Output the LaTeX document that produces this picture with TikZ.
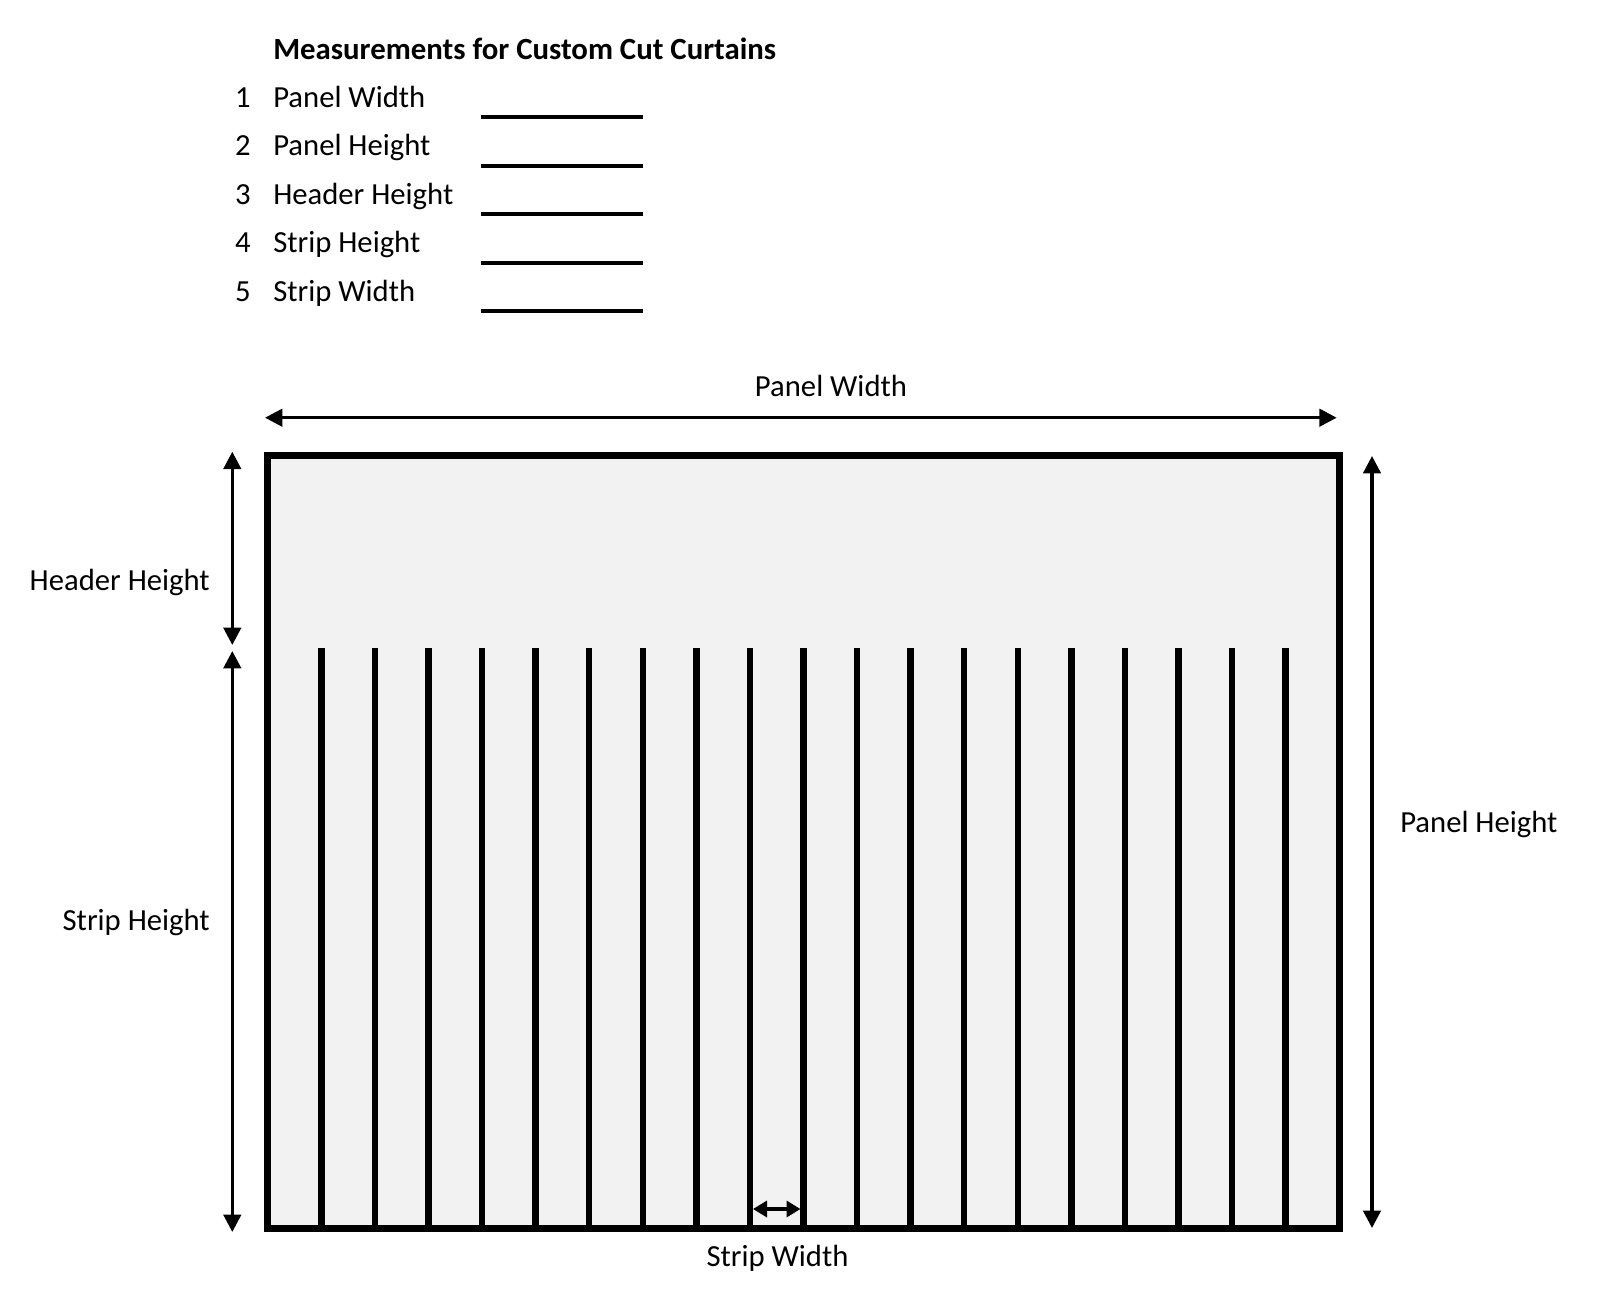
\documentclass[tikz,border=0pt]{standalone}
\usepackage{fontspec}
\setmainfont{Carlito}
\usetikzlibrary{arrows.meta}
\definecolor{panelgray}{HTML}{F2F2F2}
\begin{document}
\begin{tikzpicture}[x=0.75pt,y=-0.75pt,
  lbl/.style={inner sep=0pt, font=\fontsize{23}{27}\selectfont},
  ttl/.style={inner sep=0pt, font=\fontsize{23.1}{27}\selectfont\bfseries},
  dimline/.style={line width=2.5pt, {Triangle[length=13pt,width=13pt]}-{Triangle[length=13pt,width=13pt]}},
  smalldim/.style={line width=2.5pt, {Triangle[length=10.5pt,width=12pt]}-{Triangle[length=10.5pt,width=12pt]}},
  blankline/.style={line width=3pt},
  panelframe/.style={line width=5.25pt, fill=panelgray},
  stripline/.style={line width=4.9pt}]
\useasboundingbox (0,0) rectangle (1600,1300);

% list
\node[ttl, anchor=base west] (title) at (273,59) {Measurements for Custom Cut Curtains};
\foreach \n/\t/\yy in {1/Panel Width/107, 2/Panel Height/155.5, 3/Header Height/204, 4/Strip Height/252.5, 5/Strip Width/301}{
  \node[lbl, anchor=base] (num\n) at (243,\yy) {\n};
  \node[lbl, anchor=base west] (item\n) at (273,\yy) {\t};
  \coordinate (bl\n) at (481,\yy+10);
  \coordinate (br\n) at (643,\yy+10);
  \draw[blankline] (bl\n) -- (br\n);
}

% panel
\coordinate (pTL) at (267.8,455.5);
\coordinate (pBR) at (1339.2,1228.2);
\draw[panelframe] (pTL) rectangle (pBR);
\foreach \i in {1,...,19}{
  \coordinate (st\i) at (267.8+\i*53.57,648);
  \coordinate (sb\i) at (267.8+\i*53.57,1228.2);
  \draw[stripline] (st\i) -- (sb\i);
}

% dimension arrows
\coordinate (pwL) at (265,417.7);
\coordinate (pwR) at (1336.7,417.7);
\draw[dimline] (pwL) -- (pwR);
\node[lbl, anchor=base] (pwlabel) at (831,396) {Panel Width};

\coordinate (hhT) at (232.3,451.7);
\coordinate (hhB) at (232.3,645);
\draw[dimline] (hhT) -- (hhB);
\node[lbl, anchor=base east] (hhlabel) at (210,590) {Header Height};

\coordinate (shT) at (232.3,651);
\coordinate (shB) at (232.3,1232);
\draw[dimline] (shT) -- (shB);
\node[lbl, anchor=base east] (shlabel) at (210,930) {Strip Height};

\coordinate (phT) at (1372,456);
\coordinate (phB) at (1372,1228);
\draw[dimline] (phT) -- (phB);
\node[lbl, anchor=base west] (phlabel) at (1400,832) {Panel Height};

\coordinate (swL) at (753,1209);
\coordinate (swR) at (800.5,1209);
\draw[smalldim] (swL) -- (swR);
\node[lbl, anchor=base] (swlabel) at (777.5,1266) {Strip Width};
\end{tikzpicture}
\end{document}
